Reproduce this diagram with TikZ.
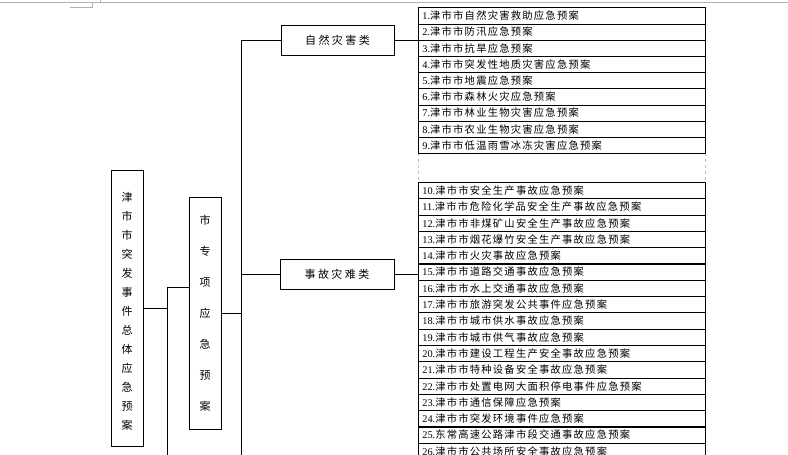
\documentclass[tikz,border=0pt]{standalone}
\usepackage{fontspec}
\newfontfamily\cjk[LetterSpace=12]{Noto Sans CJK SC}
\newfontfamily\cjkw[LetterSpace=22]{Noto Sans CJK SC}
\newfontfamily\cjkv{Noto Sans CJK SC}
\newfontfamily\ser{Liberation Serif}
\newcommand{\itm}[2]{{\ser #1.}{\cjk #2}}
\begin{document}
\begin{tikzpicture}[x=1pt,y=-1pt,
  bx/.style={draw,line width=0.8pt,inner sep=0pt},
  ln/.style={line width=0.8pt},
  row/.style={draw,line width=0.8pt,minimum width=287pt,minimum height=16.2pt,anchor=north west,inner ysep=0pt,inner xsep=4pt,text width=279pt,align=left,font=\fontsize{10.3}{11}\selectfont}]
\useasboundingbox (0,0) rectangle (788,455);
\draw[gray!60,line width=1pt] (0,2) -- (788,2);
\draw[gray!60,line width=0.6pt] (70,7) -- (92,7) -- (92,3) (100,3) -- (100,0);
% main boxes
\node[bx,minimum width=32pt,minimum height=276pt] (main) at (127,308) {};
\node[font=\fontsize{11}{19}\selectfont\cjkv,align=center] at (127,311) {津\\市\\市\\突\\发\\事\\件\\总\\体\\应\\急\\预\\案};
\node[bx,minimum width=32pt,minimum height=232pt] (zx) at (205,313) {};
\node[font=\fontsize{11}{31}\selectfont\cjkv,align=center] at (205,313) {市\\专\\项\\应\\急\\预\\案};
\node[bx,minimum width=113pt,minimum height=30pt,font=\fontsize{11}{12}\selectfont\cjkw] (zr) at (337.5,40) {自然灾害类};
\node[bx,minimum width=114pt,minimum height=30pt,font=\fontsize{11}{12}\selectfont\cjkw] (sg) at (337,274) {事故灾难类};
% connectors
\coordinate (b1) at (167,308);
\coordinate (b3) at (167,287);
\coordinate (b2) at (241,313);
\draw[ln] (main.east) -- (b1);
\draw[ln] (b3) -- (zx.west |- b3);
\draw[ln] (b3) -- (167,455);
\draw[ln] (zx.east) -- (b2);
\draw[ln] (241,40) -- (241,455);
\draw[ln] (241,40) -- (zr.west);
\draw[ln] (241,274) -- (sg.west);
\draw[ln] (zr.east) -- (418,40);
\draw[ln] (sg.east) -- (418,274);
% dashed gap
\draw[gray!50,dashed,line width=0.6pt] (418,153) -- (418,182) (705,153) -- (705,182);
% list 1
\foreach \n/\t [count=\i from 0] in {1/津市市自然灾害救助应急预案,2/津市市防汛应急预案,3/津市市抗旱应急预案,4/津市市突发性地质灾害应急预案,5/津市市地震应急预案,6/津市市森林火灾应急预案,7/津市市林业生物灾害应急预案,8/津市市农业生物灾害应急预案,9/津市市低温雨雪冰冻灾害应急预案}
  \node[row] (r\n) at (418,{7.3+16.2*\i}) {\itm{\n}{\t}};
\foreach \n/\t [count=\i from 0] in {10/津市市安全生产事故应急预案,11/津市市危险化学品安全生产事故应急预案,12/津市市非煤矿山安全生产事故应急预案,13/津市市烟花爆竹安全生产事故应急预案,14/津市市火灾事故应急预案,15/津市市道路交通事故应急预案,16/津市市水上交通事故应急预案,17/津市市旅游突发公共事件应急预案,18/津市市城市供水事故应急预案,19/津市市城市供气事故应急预案,20/津市市建设工程生产安全事故应急预案,21/津市市特种设备安全事故应急预案,22/津市市处置电网大面积停电事件应急预案,23/津市市通信保障应急预案,24/津市市突发环境事件应急预案,25/东常高速公路津市段交通事故应急预案,26/津市市公共场所安全事故应急预案}
  \node[row] (s\n) at (418,{182+16.3*\i}) {\itm{\n}{\t}};
\end{tikzpicture}
\end{document}
